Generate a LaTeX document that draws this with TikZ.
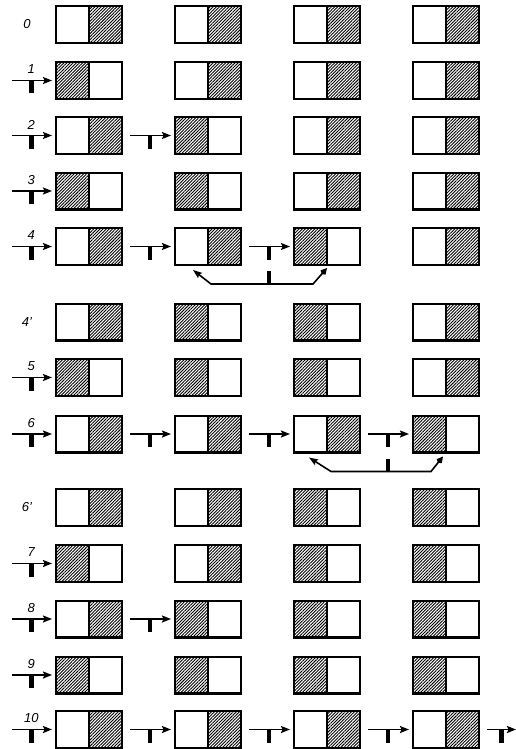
\documentclass[tikz,border=0pt]{standalone}
\usepackage{fontspec}
\setsansfont{Liberation Sans}
\usepackage{tikz}
\usetikzlibrary{arrows.meta,patterns.meta,calc}

\tikzset{
  cell/.style={draw,line width=2.3pt,minimum width=65.7,minimum height=36.7,inner sep=0pt},
  hatch/.style={pattern={Lines[angle=45,distance=2.2pt,line width=.9pt]}},
  hl/.style={cell,path picture={
      \fill[hatch] (path picture bounding box.north west) rectangle (path picture bounding box.south);
      \draw[line width=2pt] (path picture bounding box.north) -- (path picture bounding box.south);}},
  hr/.style={cell,path picture={
      \fill[hatch] (path picture bounding box.north) rectangle (path picture bounding box.south east);
      \draw[line width=2pt] (path picture bounding box.north) -- (path picture bounding box.south);}},
  tarrow/.style={line width=1.7pt,-{Stealth[length=9pt,width=7pt,inset=1.5pt]},shorten >=3pt},
  tstem/.style={line width=4.5pt},
  fback/.style={line width=1.6pt,{Kite[length=8pt,width=6.5pt]}-{Stealth[length=9pt,width=6.5pt,inset=1.5pt]}},
  lbl/.style={font=\sffamily\itshape\fontsize{13}{13}\selectfont,inner sep=0pt}
}

\begin{document}
\begin{tikzpicture}[x=1pt,y=1pt]
  \useasboundingbox (0,0) rectangle (516,-749);
  % row / depth / label / four cells / number of T-arrows
  \foreach \r/\yy/\lab/\a/\b/\c/\d/\n in {
      0/24.5/0/hr/hr/hr/hr/0,
      1/80.5/1/hl/hr/hr/hr/1,
      2/135.5/2/hr/hl/hr/hr/2,
      3/191/3/hl/hl/hr/hr/1,
      4/246.5/4/hr/hr/hl/hr/3,
      4p/322/4'/hr/hl/hl/hr/0,
      5/377.5/5/hl/hl/hl/hr/1,
      6/434/6/hr/hr/hr/hl/4,
      6p/507.5/6'/hr/hr/hl/hl/0,
      7/563.5/7/hl/hr/hl/hl/1,
      8/619/8/hr/hl/hl/hl/2,
      9/675/9/hl/hl/hl/hl/1,
      10/729.5/10/hr/hr/hr/hr/5}{
    \foreach \s [count=\i] in {\a,\b,\c,\d}
      \node[\s] (b\r-\i) at ({89+119*(\i-1)},-\yy) {};
    \ifnum\n>0
      \foreach \k in {1,...,\n}{
        \pgfmathtruncatemacro{\p}{\k-1}
        \ifnum\k=1 \coordinate (t\r-\k) at (12,-\yy);
        \else \coordinate (t\r-\k) at ([xshift=7]b\r-\p.east); \fi
        \ifnum\k=5 \coordinate (e\r-\k) at ([xshift=32]t\r-\k);
        \else \coordinate (e\r-\k) at (b\r-\k.west); \fi
        \draw[tarrow] (t\r-\k) -- (e\r-\k);
        \draw[tstem] ($(t\r-\k)!.45!(e\r-\k)$) coordinate (m\r-\k) -- ++(0,-13);
      }
      \node[lbl] (n\r) at ([yshift=11]m\r-1) {\lab};
    \else
      \node[lbl] (n\r) at (27,-\yy) {\lab};
    \fi
  }
  % return paths
  \draw[fback] ([yshift=-2]b4-3.south) -- ++(-14,-16) coordinate (f4)
    -- ++(-102,0) -- ([xshift=-15,yshift=-4]b4-2.south);
  \draw[tstem] (m4-3 |- f4) -- ++(0,13);
  \draw[fback] ([xshift=-3,yshift=-3]b6-4.south) -- ++(-12,-15) coordinate (f6)
    -- ++(-100,0) -- ([xshift=-18,yshift=-4]b6-3.south);
  \draw[tstem] (m6-4 |- f6) -- ++(0,13);
\end{tikzpicture}
\end{document}
